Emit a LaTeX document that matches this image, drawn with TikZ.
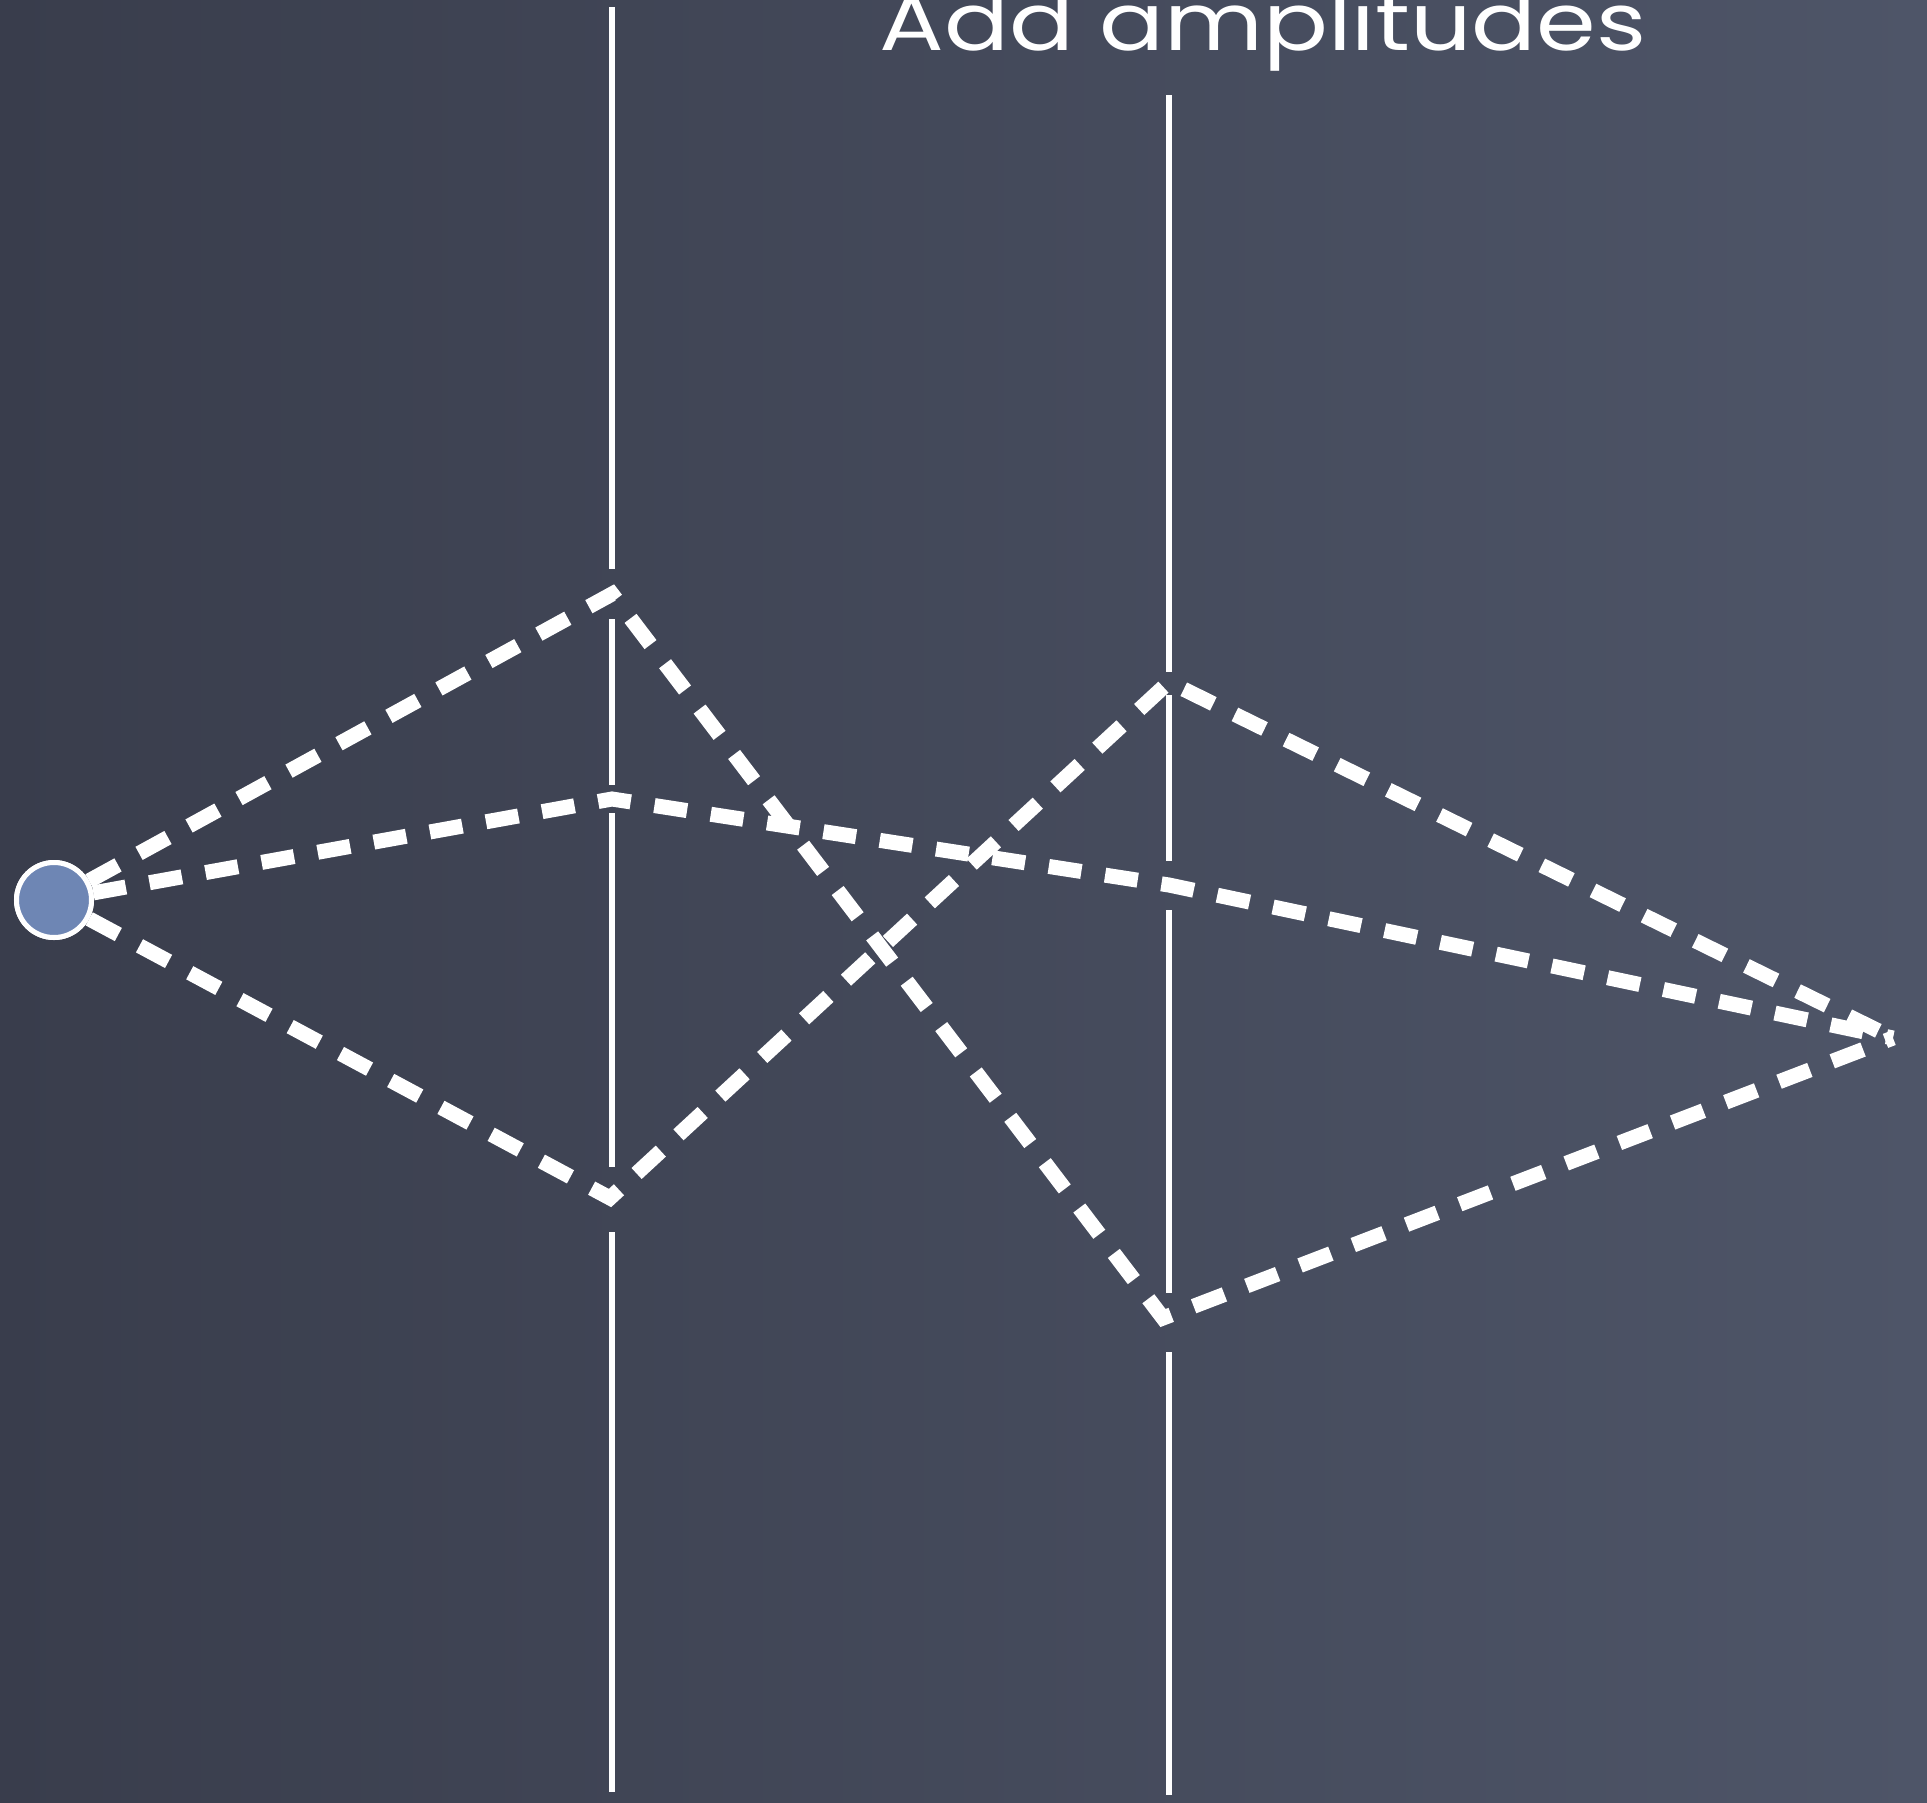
\documentclass[tikz,border=0pt]{standalone}
\usepackage{fontspec}
\newfontfamily\titlefont{Poppins}
\definecolor{boardL}{RGB}{57,61,76}
\definecolor{boardR}{RGB}{78,85,104}
\definecolor{dotblue}{RGB}{110,134,180}
\tikzset{
  screen/.style={draw=white, line width=5.5pt},
  ray/.style={draw=white, line width=15pt, dash pattern=on 33pt off 24pt},
  source/.style={circle, fill=dotblue, draw=white, line width=5pt, minimum size=75pt, inner sep=0pt},
  titletext/.style={text=white, font=\titlefont\fontsize{80}{88}\selectfont, anchor=base, inner sep=0pt, xscale=1.2}
}
\begin{document}
\begin{tikzpicture}[x=1pt,y=-1pt]
\useasboundingbox (0,0) rectangle (1927,1802);
\shade[left color=boardL, right color=boardR] (0,0) rectangle (1927,1802);
% screens
\coordinate (L0) at (612,7);   \coordinate (L1) at (612,569);
\coordinate (L2) at (612,619); \coordinate (L3) at (612,785);
\coordinate (L4) at (612,813); \coordinate (L5) at (612,1167);
\coordinate (L6) at (612,1232);\coordinate (L7) at (612,1792);
\coordinate (R0) at (1169,95);  \coordinate (R1) at (1169,672);
\coordinate (R2) at (1169,695); \coordinate (R3) at (1169,861);
\coordinate (R4) at (1169,910); \coordinate (R5) at (1169,1293);
\coordinate (R6) at (1169,1352);\coordinate (R7) at (1169,1795);
\draw[screen] (L0) -- (L1) (L2) -- (L3) (L4) -- (L5) (L6) -- (L7);
\draw[screen] (R0) -- (R1) (R2) -- (R3) (R4) -- (R5) (R6) -- (R7);
% slits
\coordinate (sa) at (612,594);
\coordinate (sb) at (612,799);
\coordinate (sc) at (610,1198);
\coordinate (ta) at (1169,682);
\coordinate (tb) at (1169,885);
\coordinate (tc) at (1163,1318);
\coordinate (det) at (1893,1038);
\node[source] (src) at (54,900) {};
% rays
\draw[ray] (src) -- (sa) -- (tc) -- (det);
\draw[ray] (src) -- (sb) -- (tb) -- (det);
\draw[ray] (src) -- (sc) -- (ta) -- (det);
\node[source] at (src) {};
\node[titletext] (title) at (1263,50) {Add amplitudes};
\end{tikzpicture}
\end{document}
